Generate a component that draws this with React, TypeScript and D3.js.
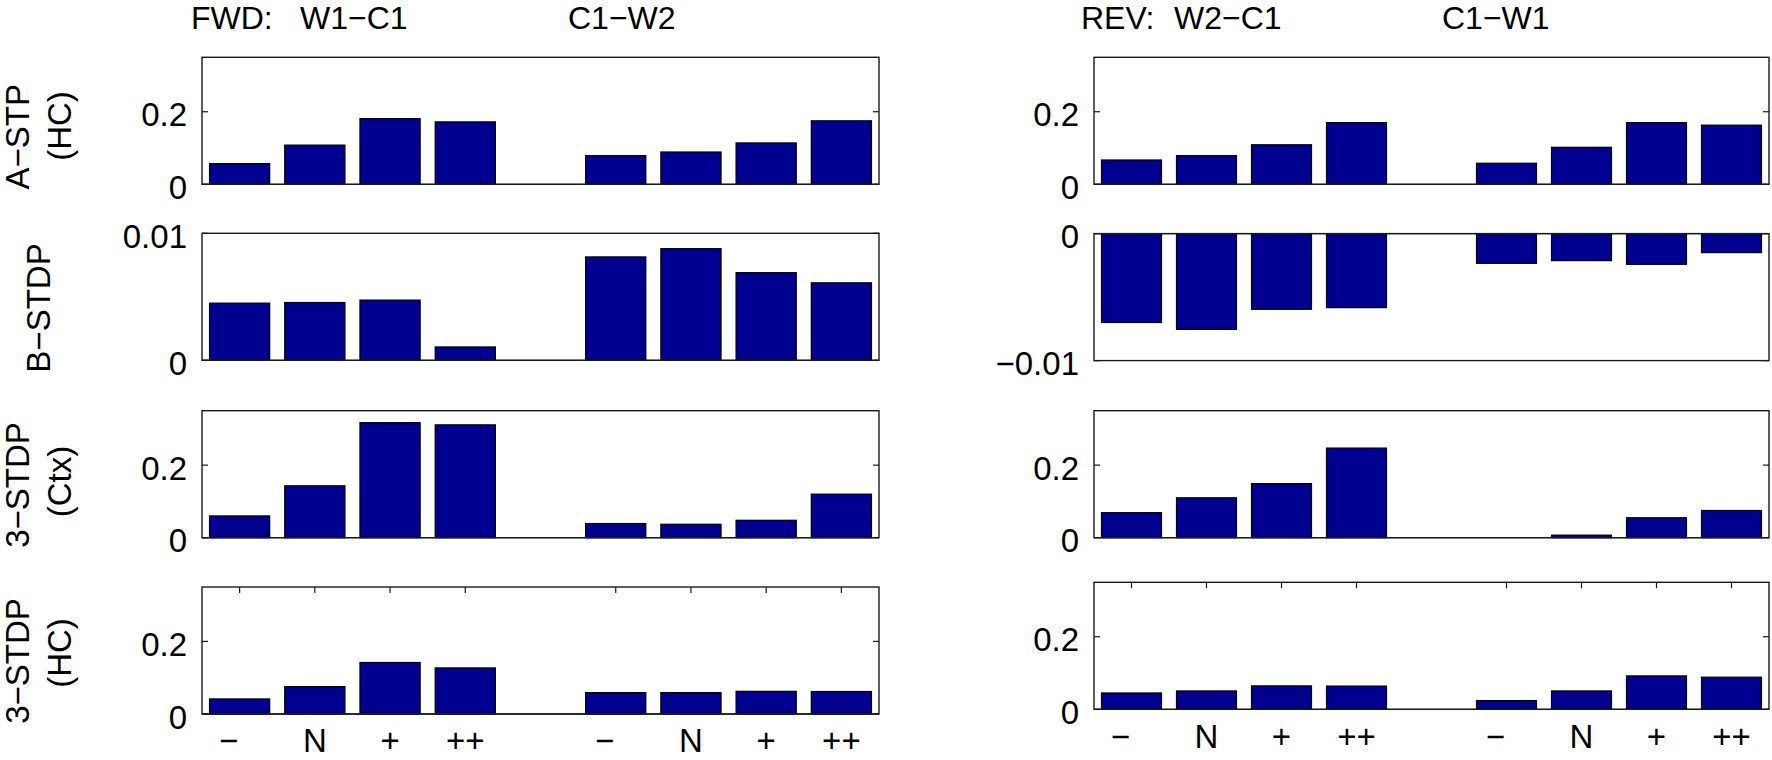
import React from "react";
import * as d3 from "d3";

// ---------- data ----------
const categories = ["−", "N", "+", "++"];
const slotPositions = [1, 2, 3, 4, 6, 7, 8, 9];

const fwdPrefix = "FWD:";
const fwdGroups = ["W1−C1", "C1−W2"];
const revPrefix = "REV:";
const revGroups = ["W2−C1", "C1−W1"];

const rowLabels = [
  ["A−STP", "(HC)"],
  ["B−STDP"],
  ["3−STDP", "(Ctx)"],
  ["3−STDP", "(HC)"],
];

const fwdAstpHC = [0.057, 0.108, 0.181, 0.172, 0.079, 0.089, 0.114, 0.175];
const fwdBstdp = [0.0045, 0.00455, 0.00474, 0.00105, 0.00814, 0.00879, 0.0069, 0.0061];
const fwd3stdpCtx = [0.06, 0.143, 0.317, 0.311, 0.039, 0.037, 0.048, 0.12];
const fwd3stdpHC = [0.0415, 0.0755, 0.142, 0.127, 0.059, 0.059, 0.0625, 0.062];

const revAstpHC = [0.067, 0.079, 0.109, 0.17, 0.058, 0.102, 0.17, 0.163];
const revBstdp = [-0.007, -0.00754, -0.00596, -0.00583, -0.00234, -0.00213, -0.00242, -0.0015];
const rev3stdpCtx = [0.069, 0.11, 0.149, 0.247, 0, 0.007, 0.055, 0.075];
const rev3stdpHC = [0.045, 0.0506, 0.0645, 0.064, 0.024, 0.0506, 0.092, 0.0885];

const rateDomain = [0, 0.35];
const rateTicks = [0, 0.2];
const fwdBDomain = [0, 0.01];
const fwdBTicks = [0, 0.01];
const revBDomain = [-0.01, 0];
const revBTicks = [-0.01, 0];

// ---------- layout ----------
const W = 1772;
const H = 760;
const FONT = "'Liberation Sans', Arial, Helvetica, sans-serif";
const BAR_FILL = "#000090";
const AXIS = "#1a1a1a";
const PANEL_H = 127;
const TICK = 6;

const columns = [
  {
    left: 202,
    width: 677,
    prefix: fwdPrefix,
    groups: fwdGroups,
    titleX: [191, 300, 568],
    tops: [57.3, 233.3, 410.7, 587.0],
    rows: [fwdAstpHC, fwdBstdp, fwd3stdpCtx, fwd3stdpHC],
    domains: [rateDomain, fwdBDomain, rateDomain, rateDomain],
    ticks: [rateTicks, fwdBTicks, rateTicks, rateTicks],
    xLabelGap: 38.5,
  },
  {
    left: 1094,
    width: 675,
    prefix: revPrefix,
    groups: revGroups,
    titleX: [1081, 1174, 1442],
    tops: [57.3, 233.6, 410.7, 582.3],
    rows: [revAstpHC, revBstdp, rev3stdpCtx, rev3stdpHC],
    domains: [rateDomain, revBDomain, rateDomain, rateDomain],
    ticks: [rateTicks, revBTicks, rateTicks, rateTicks],
    xLabelGap: 38.5,
  },
];

const rowLabelCenters = [
  [136.7, 126],
  [308],
  [485, 481.5],
  [661, 653],
];
const rowLabelBaselines = [29, 71];
const singleLabelBaseline = 50;

const fmt = (d: number) => (d === 0 ? "0" : d < 0 ? "−" + String(Math.abs(d)) : String(d));

function Panel({ col, r }: { col: any; r: number }) {
  const top = col.tops[r];
  const x = d3.scaleLinear().domain([0.5, 9.5]).range([col.left, col.left + col.width]);
  const y = d3.scaleLinear().domain(col.domains[r]).range([top + PANEL_H, top]);
  const values: number[] = col.rows[r];
  const bw = x(1.4) - x(0.6);
  const isBottom = r === 3;
  const right = col.left + col.width;
  return (
    <g>
      {isBottom &&
        slotPositions.map((s, i) => (
          <line key={"bt" + i} x1={x(s)} x2={x(s)} y1={top + PANEL_H} y2={top + PANEL_H - TICK} stroke={AXIS} strokeWidth={1.2} />
        ))}
      {values.map((v, i) => {
        const y0 = y(0);
        const yv = y(v);
        return (
          <rect
            key={i}
            x={x(slotPositions[i]) - bw / 2}
            y={Math.min(y0, yv)}
            width={bw}
            height={Math.abs(yv - y0)}
            fill={BAR_FILL}
            stroke="#000"
            strokeWidth={1.2}
          />
        );
      })}
      <line x1={col.left} x2={right} y1={y(0)} y2={y(0)} stroke={AXIS} strokeWidth={1.3} />
      <rect x={col.left} y={top} width={col.width} height={PANEL_H} fill="none" stroke={AXIS} strokeWidth={1.4} />
      {col.ticks[r].map((t: number, i: number) => (
        <g key={"yt" + i}>
          <line x1={col.left} x2={col.left + TICK} y1={y(t)} y2={y(t)} stroke={AXIS} strokeWidth={1.2} />
          <line x1={right} x2={right - TICK} y1={y(t)} y2={y(t)} stroke={AXIS} strokeWidth={1.2} />
          <text x={col.left - 15} y={y(t) + 14.5} textAnchor="end" fontSize={33} fontFamily={FONT} fill="#000">
            {fmt(t)}
          </text>
        </g>
      ))}
      {isBottom &&
        slotPositions.map((s, i) => (
          <g key={"xt" + i}>
            <line x1={x(s)} x2={x(s)} y1={top} y2={top + TICK} stroke={AXIS} strokeWidth={1.2} />
            <text
              x={x(s) + (i % 4 === 0 ? -11 : 0)}
              y={Math.min(top + PANEL_H + col.xLabelGap, H - 8)}
              textAnchor="middle"
              fontSize={33}
              fontFamily={FONT}
              fill="#000"
            >
              {categories[i % 4]}
            </text>
          </g>
        ))}
    </g>
  );
}

export default function App() {
  return (
    <svg
      width={W}
      height={H}
      viewBox={`0 0 ${W} ${H}`}
      style={{ position: "absolute", left: 0, top: 0, background: "#fff" }}
    >
      <rect x={0} y={0} width={W} height={H} fill="#fff" />
      {columns.map((col, ci) => (
        <g key={ci}>
          <text x={col.titleX[0]} y={29} fontSize={32} fontFamily={FONT} fill="#000">
            {col.prefix}
          </text>
          {col.groups.map((g: string, gi: number) => (
            <text key={gi} x={col.titleX[gi + 1]} y={29} fontSize={32} fontFamily={FONT} fill="#000">
              {g}
            </text>
          ))}
          {[0, 1, 2, 3].map((r) => (
            <Panel key={r} col={col} r={r} />
          ))}
        </g>
      ))}
      {rowLabels.map((lines, r) =>
        lines.map((txt, li) => {
          const bx = lines.length === 1 ? singleLabelBaseline : rowLabelBaselines[li];
          const cy = rowLabelCenters[r][li];
          return (
            <text
              key={r + "-" + li}
              transform={`translate(${bx},${cy}) rotate(-90)`}
              textAnchor="middle"
              fontSize={33}
              fontFamily={FONT}
              fill="#000"
            >
              {txt}
            </text>
          );
        })
      )}
    </svg>
  );
}
